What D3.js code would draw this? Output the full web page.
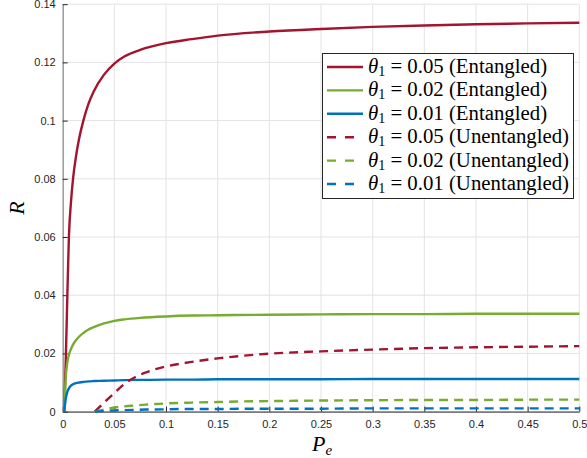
<!DOCTYPE html>
<html>
<head>
<meta charset="utf-8">
<script src="https://cdn.jsdelivr.net/npm/d3@7"></script>
<style>
body { margin: 0; background: #fff; }
svg { display: block; }
</style>
</head>
<body>
<div id="chart"></div>
<script>
// P_e samples (entangled curves)
var xEnt = [0.0015, 0.003, 0.0045, 0.006, 0.008, 0.010, 0.013, 0.016, 0.020, 0.025, 0.030, 0.040, 0.050,
	0.060, 0.075, 0.100, 0.125, 0.150, 0.200, 0.250, 0.300, 0.350, 0.400, 0.450, 0.500];
var ent05 = [0, 0.018, 0.040, 0.060, 0.072, 0.080, 0.088, 0.094, 0.100, 0.1058, 0.1100, 0.1158, 0.1196,
	0.1221, 0.1243, 0.1266, 0.1280, 0.1292, 0.1306, 0.1315, 0.1322, 0.1327, 0.1331, 0.1334, 0.1336];
var ent02 = [0, 0.012, 0.017, 0.0195, 0.0215, 0.0230, 0.0246, 0.0258, 0.0270, 0.0282, 0.0290, 0.0303, 0.0312,
	0.0317, 0.0322, 0.0327, 0.0330, 0.0331, 0.0333, 0.0334, 0.0335, 0.0335, 0.0336, 0.0336, 0.0336];
var ent01 = [0, 0.0045, 0.0068, 0.0080, 0.0089, 0.0094, 0.0098, 0.0100, 0.0102, 0.0104, 0.0105, 0.0106, 0.0107,
	0.0108, 0.0109, 0.0110, 0.0110, 0.0111, 0.0111, 0.0111, 0.0112, 0.0112, 0.0112, 0.0112, 0.0112];

// P_e samples (unentangled curves)
var xUnent = [0.031, 0.04, 0.05, 0.06, 0.07, 0.08, 0.09, 0.1, 0.125, 0.15, 0.175, 0.2, 0.25, 0.3, 0.35, 0.4, 0.45, 0.5];
var unent05 = [0, 0.0031, 0.0064, 0.0096, 0.0118, 0.0134, 0.0146, 0.0155, 0.0171, 0.0183, 0.0192, 0.0199,
	0.0207, 0.0213, 0.0218, 0.0221, 0.0223, 0.0225];
var unent02 = [0, 0.0007, 0.0014, 0.0018, 0.0021, 0.0024, 0.0026, 0.0028, 0.0031, 0.0033, 0.0035, 0.0036,
	0.0038, 0.0039, 0.0040, 0.0040, 0.0041, 0.0041];
var unent01 = [0, 0.0002, 0.0004, 0.0005, 0.0006, 0.0007, 0.0007, 0.0008, 0.0009, 0.0009, 0.0010, 0.0010,
	0.0010, 0.0011, 0.0011, 0.0011, 0.0011, 0.0011];

var thetas = ["0.05", "0.02", "0.01", "0.05", "0.02", "0.01"];
var kinds = ["Entangled", "Entangled", "Entangled", "Unentangled", "Unentangled", "Unentangled"];
var colors = ["#A2142F", "#77AC30", "#0072BD", "#A2142F", "#77AC30", "#0072BD"];

var xTicks = [0, 0.05, 0.1, 0.15, 0.2, 0.25, 0.3, 0.35, 0.4, 0.45, 0.5];
var yTicks = [0, 0.02, 0.04, 0.06, 0.08, 0.1, 0.12, 0.14];

var series = [
	{ xs: xEnt, ys: ent05, dash: null },
	{ xs: xEnt, ys: ent02, dash: null },
	{ xs: xEnt, ys: ent01, dash: null },
	{ xs: xUnent, ys: unent05, dash: "9,6" },
	{ xs: xUnent, ys: unent02, dash: "9,6" },
	{ xs: xUnent, ys: unent01, dash: "9,6" }
];

var W = 587, H = 458;
var L = 62.7, R = 579.3, T = 4.2, B = 411.6;

var svg = d3.select("#chart").append("svg").attr("width", W).attr("height", H);

var x = d3.scaleLinear().domain([0, 0.5]).range([L, R]);
var y = d3.scaleLinear().domain([0, 0.14]).range([B, T]);

var tickFont = "'Liberation Sans', Arial, Helvetica, sans-serif";
var mathFont = "'Liberation Serif', 'Times New Roman', serif";
var axisColor = "#262626";

// grid
var grid = svg.append("g").attr("class", "grid");
grid.selectAll("line.gx").data(xTicks).enter().append("line")
	.attr("x1", function(d) { return x(d); }).attr("x2", function(d) { return x(d); })
	.attr("y1", T).attr("y2", B)
	.style("stroke", "#e3e3e3").style("stroke-width", 1);
grid.selectAll("line.gy").data(yTicks).enter().append("line")
	.attr("x1", L).attr("x2", R)
	.attr("y1", function(d) { return y(d); }).attr("y2", function(d) { return y(d); })
	.style("stroke", "#e3e3e3").style("stroke-width", 1);

// axes (ticks inward)
var fmt = function(d) { return d3.format("~g")(+d.toFixed(2)); };
var xAxis = svg.append("g").attr("transform", "translate(0," + B + ")")
	.call(d3.axisBottom(x).tickValues(xTicks).tickFormat(fmt).tickSizeInner(-5).tickSizeOuter(0).tickPadding(9));
var yAxis = svg.append("g").attr("transform", "translate(" + L + ",0)")
	.call(d3.axisLeft(y).tickValues(yTicks).tickFormat(fmt).tickSizeInner(-5).tickSizeOuter(0).tickPadding(7));

[xAxis, yAxis].forEach(function(a) {
	a.select("path.domain").style("stroke", axisColor).style("stroke-width", 1);
	a.selectAll(".tick line").style("stroke", axisColor);
	a.selectAll(".tick text").style("fill", axisColor).style("font-family", tickFont).style("font-size", "11px");
});
yAxis.select("path.domain").style("stroke", "#777");

// curves
var line = d3.line().curve(d3.curveMonotoneX)
	.x(function(d) { return x(d[0]); }).y(function(d) { return y(d[1]); });

var lines = svg.append("g").attr("class", "lines");
series.forEach(function(s, i) {
	var pts = s.xs.map(function(v, k) { return [v, s.ys[k]]; });
	lines.append("path").attr("d", line(pts))
		.style("fill", "none").style("stroke", colors[i]).style("stroke-width", 2.4)
		.style("stroke-dasharray", s.dash);
});

// axis labels
svg.append("text").attr("transform", "translate(24,208) rotate(-90)")
	.style("text-anchor", "middle").style("font-family", mathFont).style("font-style", "italic")
	.style("font-size", "22px").style("fill", "#000").text("R");

var xl = svg.append("text").attr("x", 312).attr("y", 451)
	.style("font-family", mathFont).style("font-size", "22px").style("fill", "#000");
xl.append("tspan").style("font-style", "italic").text("P");
xl.append("tspan").attr("dy", 4).style("font-style", "italic").style("font-size", "15px").text("e");

// legend
var leg = svg.append("g").attr("class", "legend");
leg.append("rect").attr("x", 322.5).attr("y", 53.5).attr("width", 251).attr("height", 145)
	.style("fill", "#fff").style("stroke", axisColor).style("stroke-width", 1);

series.forEach(function(s, i) {
	var cy = 67 + i * 23.4;
	leg.append("line").attr("x1", 327).attr("x2", 363).attr("y1", cy).attr("y2", cy)
		.style("stroke", colors[i]).style("stroke-width", 2.4)
		.style("stroke-dasharray", s.dash ? "9,9" : null);
	var t = leg.append("text").attr("x", 368).attr("y", cy + 6)
		.style("font-family", mathFont).style("font-size", "20.8px").style("fill", "#000");
	t.append("tspan").style("font-style", "italic").text("θ");
	t.append("tspan").attr("dy", 3).style("font-size", "14px").text("1");
	t.append("tspan").attr("dy", -3).text(" = " + thetas[i] + " (" + kinds[i] + ")");
});
</script>
</body>
</html>
